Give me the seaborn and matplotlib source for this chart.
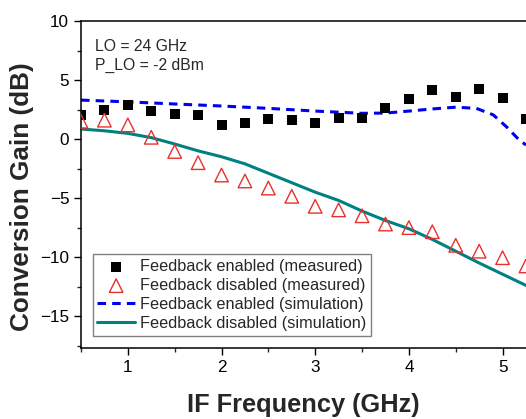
import numpy as np
import pandas as pd
import matplotlib
matplotlib.use('Agg')
import matplotlib.pyplot as plt
import seaborn as sns

# measured points, 0.25 GHz steps
f_meas = [0.5, 0.75, 1.0, 1.25, 1.5, 1.75, 2.0, 2.25, 2.5, 2.75, 3.0,
          3.25, 3.5, 3.75, 4.0, 4.25, 4.5, 4.75, 5.0, 5.25]
gain_fb_on = [2.0, 2.5, 2.9, 2.4, 2.1, 2.0, 1.2, 1.4, 1.7, 1.6, 1.4,
              1.8, 1.8, 2.6, 3.4, 4.15, 3.55, 4.2, 3.5, 1.7]
gain_fb_off = [1.5, 1.6, 1.2, 0.15, -1.05, -2.0, -3.05, -3.55, -4.15, -4.85, -5.7,
               -6.0, -6.5, -7.2, -7.5, -7.85, -9.0, -9.5, -10.05, -10.75]

# simulation curves
f_sim_on = [0.5, 1.0, 1.5, 2.0, 2.5, 3.0, 3.5, 3.75, 4.0, 4.25, 4.5,
            4.72, 4.9, 5.04, 5.18, 5.25]
gain_sim_on = [3.3, 3.15, 2.97, 2.8, 2.6, 2.37, 2.18, 2.2, 2.37, 2.55, 2.7,
               2.6, 2.05, 1.05, -0.1, -0.5]
f_sim_off = [0.5, 0.75, 1.0, 1.25, 1.5, 1.75, 2.0, 2.25, 2.5, 2.75, 3.0,
             3.25, 3.5, 3.75, 4.0, 4.25, 4.5, 4.75, 5.0, 5.25]
gain_sim_off = [0.85, 0.7, 0.48, 0.12, -0.42, -1.0, -1.5, -2.1, -2.9, -3.7, -4.5,
                -5.2, -6.1, -6.9, -7.6, -8.5, -9.5, -10.5, -11.45, -12.4]

sns.set_style('ticks')
plt.rcParams['font.family'] = ['Liberation Sans', 'DejaVu Sans']

fig = plt.figure(figsize=(5.26, 4.19), dpi=100)
ax = fig.add_axes([81/526, 71/419, 445/526, 327/419])

sns.scatterplot(x=f_meas, y=gain_fb_on, ax=ax, marker='s', s=55, color='black',
                edgecolor='black', linewidth=0, label='Feedback enabled (measured)', zorder=3)
sns.scatterplot(x=f_meas, y=gain_fb_off, ax=ax, marker='^', s=95, facecolor='none',
                edgecolor='#e8302c', linewidth=1.0, label='Feedback disabled (measured)', zorder=3)
sns.lineplot(x=f_sim_on, y=gain_sim_on, ax=ax, color='#0000ee', linewidth=2.2,
             linestyle=(0, (2.8, 2.0)), label='Feedback enabled (simulation)', zorder=2)
sns.lineplot(x=f_sim_off, y=gain_sim_off, ax=ax, color='#008080', linewidth=2.2,
             label='Feedback disabled (simulation)', zorder=2)

ax.set_xlim(0.5, 5.25)
ax.set_ylim(-17.7, 10)
ax.set_xticks([1, 2, 3, 4, 5])
ax.set_xticks(np.arange(0.5, 5.3, 0.5), minor=True)
ax.set_yticks([-15, -10, -5, 0, 5, 10])
ax.set_yticks(np.arange(-17.5, 10.1, 2.5), minor=True)
ax.tick_params(which='major', direction='out', length=5, width=1, labelsize=12.3, colors='black')
ax.tick_params(which='minor', direction='out', length=3, width=1)
for s in ['left', 'bottom', 'top']:
    ax.spines[s].set_linewidth(1.1)
    ax.spines[s].set_color('black')
ax.spines['right'].set_visible(False)

ax.set_xlabel('IF Frequency (GHz)', fontsize=18.3, fontweight='bold', labelpad=13)
ax.set_ylabel('Conversion Gain (dB)', fontsize=18.8, fontweight='bold')
ax.yaxis.set_label_coords(-0.105, 0.462)

ax.text(0.031, 0.945, 'LO = 24 GHz\nP_LO = -2 dBm', transform=ax.transAxes,
        fontsize=11.3, va='top', ha='left', linespacing=1.3)

leg = ax.legend(loc='lower left', bbox_to_anchor=(0.026, 0.037), borderaxespad=0,
                fontsize=11.7, frameon=True, fancybox=False, edgecolor='#808080',
                handlelength=2.3, handletextpad=0.3, labelspacing=0.25,
                borderpad=0.3, framealpha=1)
leg.get_frame().set_linewidth(1.0)

fig.savefig('out.png', dpi=100)
